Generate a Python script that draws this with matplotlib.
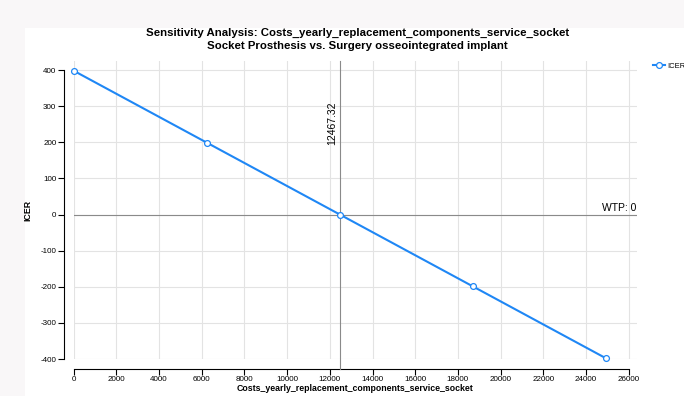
import matplotlib.pyplot as plt
from matplotlib.patches import Rectangle

plt.rcParams['font.family'] = ['Liberation Sans', 'DejaVu Sans']
plt.rcParams['axes.unicode_minus'] = False

# data
param_name = "Costs_yearly_replacement_components_service_socket"
cost = [0, 6233.66, 12467.32, 18700.98, 24934.64]
icer = [398, 199, 0, -199, -398]
threshold = 12467.32
wtp = 0
x_ticks = list(range(0, 26001, 2000))
y_ticks = list(range(-400, 401, 100))

blue = '#1f87f5'

fig = plt.figure(figsize=(6.84, 3.96), dpi=100, facecolor='#f9f7f8')
fig.patches.append(Rectangle((25 / 684, 0), 1, 1 - 28 / 396, transform=fig.transFigure,
                             facecolor='white', edgecolor='none', zorder=-10))

ax = fig.add_axes([73.7 / 684, 1 - 359 / 396, (637 - 73.7) / 684, (359 - 61) / 396])
ax.set_facecolor('white')

ax.plot(cost, icer, color=blue, lw=1.5, marker='o', ms=4.2, mfc='white',
        mec=blue, mew=0.9, label='ICER', zorder=5, clip_on=False)

# reference lines
ax.axhline(wtp, color='#8a8a8a', lw=0.8, zorder=3)
ax.text(26350, wtp + 4, 'WTP: 0', ha='right', va='bottom', fontsize=7.5)
ax.axvline(threshold, ymin=-10 / 298, ymax=1, color='#8a8a8a', lw=0.8,
           zorder=3, clip_on=False)
ax.text(threshold - 120, 314, '12467.32', rotation=90, ha='right', va='top', fontsize=7.5)

ax.set_xlim(0, 26390)
ax.set_ylim(-400, 425)
ax.set_xticks(x_ticks)
ax.set_yticks(y_ticks)
ax.grid(True, color='#e3e3e3', lw=0.8)
ax.set_axisbelow(True)
ax.tick_params(labelsize=5.8, length=4, width=0.8, pad=1.5)

for s in ['top', 'right']:
    ax.spines[s].set_visible(False)
ax.spines['left'].set_position(('outward', 7))
ax.spines['left'].set_bounds(-400, 400)
ax.spines['bottom'].set_position(('outward', 7))
ax.spines['bottom'].set_bounds(0, 26000)

ax.set_xlabel(param_name, fontsize=6.3, fontweight='bold', labelpad=0.5)
ax.set_ylabel('ICER', fontsize=6.3, fontweight='bold', labelpad=5.5)

fig.text(0.523, 1 - 33 / 396,
         'Sensitivity Analysis: ' + param_name, ha='center', va='center',
         fontsize=8.2, fontweight='bold')
fig.text(0.523, 1 - 46 / 396,
         'Socket Prosthesis vs. Surgery osseointegrated implant', ha='center', va='center',
         fontsize=8.2, fontweight='bold')

ax.legend(loc='center left', bbox_to_anchor=(653 / 684, 1 - 66 / 396),
          bbox_transform=fig.transFigure, frameon=False, fontsize=5.5,
          handlelength=1.6, handletextpad=0.3, borderaxespad=0, borderpad=0)

fig.savefig('out.png', dpi=100, facecolor=fig.get_facecolor())
